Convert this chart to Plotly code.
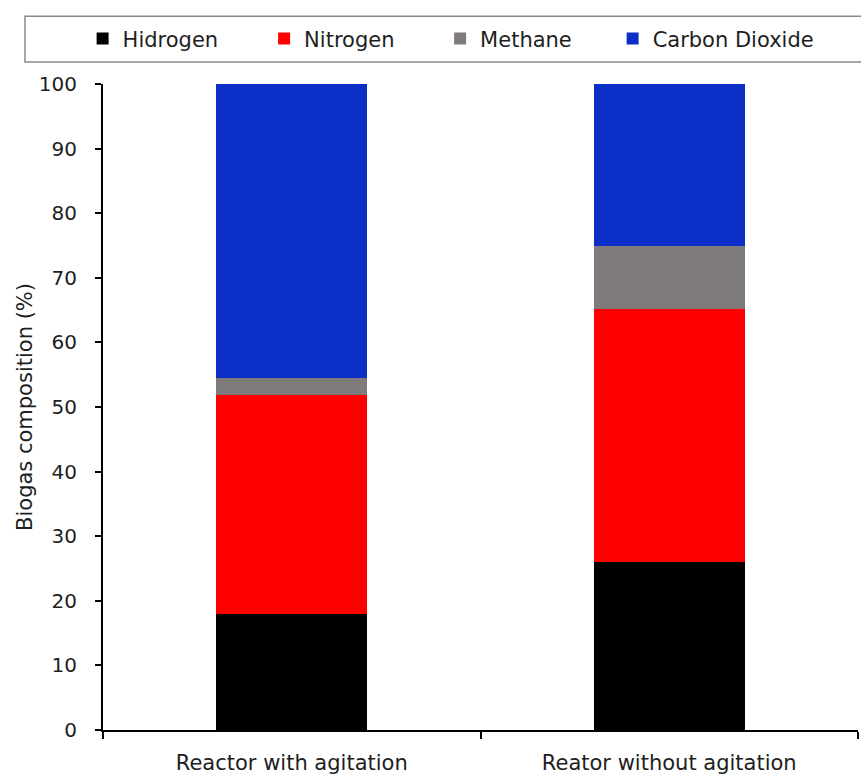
import plotly.graph_objects as go

# Biogas composition per reactor (%)
reactors = ["Reactor with agitation", "Reator without agitation"]
hydrogen = [18.0, 26.0]
nitrogen = [33.8, 39.1]
methane = [2.7, 9.8]
carbon_dioxide = [45.5, 25.1]

series = [
    ("Hidrogen", hydrogen, "#000000"),
    ("Nitrogen", nitrogen, "#FF0000"),
    ("Methane", methane, "#7F7B7B"),
    ("Carbon Dioxide", carbon_dioxide, "#0A2EC6"),
]

# one single-entry legend per series, laid out in a row across the top box
legend_ids = ["legend", "legend2", "legend3", "legend4"]
legend_x = [-0.027, 0.2134, 0.4465, 0.6750]

font_family = "DejaVu Sans, Verdana, sans-serif"
text_color = "#1e1e1e"

fig = go.Figure()
for (name, vals, color), lid in zip(series, legend_ids):
    fig.add_trace(go.Bar(
        x=reactors, y=vals, name=name, legend=lid, showlegend=True,
        marker=dict(color=color, line=dict(width=0)),
        width=0.4,
    ))

legend_style = dict(
    visible=True,
    orientation="h", y=1.07, yanchor="middle", xanchor="left",
    font=dict(family=font_family, size=21, color=text_color),
    bgcolor="rgba(0,0,0,0)", itemclick=False, itemdoubleclick=False,
)
for lid, lx in zip(legend_ids, legend_x):
    fig.update_layout({lid: dict(legend_style, x=lx)})

fig.update_layout(
    showlegend=True,
    barmode="stack",
    width=861, height=774,
    margin=dict(l=103, r=3, t=84, b=44),
    paper_bgcolor="white", plot_bgcolor="white",
    font=dict(family=font_family, size=21, color=text_color),
    shapes=[dict(
        type="rect", xref="paper", yref="paper",
        x0=-0.1033, x1=1.02, y0=1.034, y1=1.105,
        line=dict(color="#8a8a8a", width=1.5), fillcolor="rgba(0,0,0,0)",
    )],
)

fig.update_xaxes(
    automargin=False,
    showline=True, linecolor="black", linewidth=2,
    ticks="outside", tickson="boundaries", ticklen=7, tickwidth=2, tickcolor="black",
    tickfont=dict(family=font_family, size=21, color=text_color),
    ticklabelstandoff=13,
    showgrid=False,
)
fig.update_yaxes(
    automargin=False,
    range=[0, 100], dtick=10,
    showline=True, linecolor="black", linewidth=2,
    ticks="outside", ticklen=6, tickwidth=2, tickcolor="black",
    tickfont=dict(family=font_family, size=20, color=text_color),
    ticklabelstandoff=14,
    showgrid=False, zeroline=False,
    title=dict(text="Biogas composition (%)",
               font=dict(family=font_family, size=21, color=text_color), standoff=0),
)

fig.write_html("out.html")
